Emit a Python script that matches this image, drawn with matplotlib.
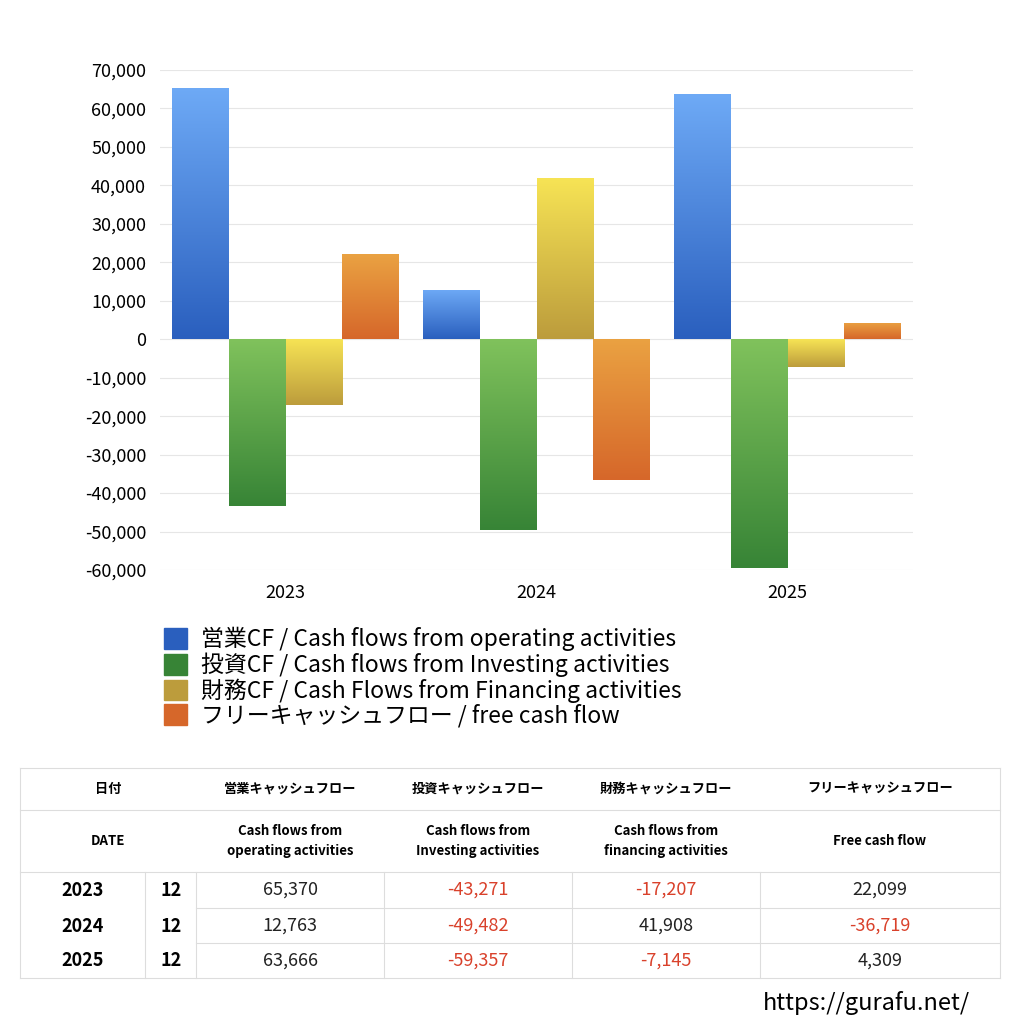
import matplotlib
matplotlib.use("Agg")
import matplotlib.pyplot as plt
import numpy as np
from matplotlib.colors import LinearSegmentedColormap

plt.rcParams['font.family'] = ['Noto Sans CJK JP', 'DejaVu Sans']

years = ['2023', '2024', '2025']
months = ['12', '12', '12']
operating = [65370, 12763, 63666]
investing = [-43271, -49482, -59357]
financing = [-17207, 41908, -7145]
free_cf = [22099, -36719, 4309]
series = [operating, investing, financing, free_cf]
labels = ['営業CF / Cash flows from operating activities',
          '投資CF / Cash flows from Investing activities',
          '財務CF / Cash Flows from Financing activities',
          'フリーキャッシュフロー / free cash flow']
grads = [('#6eaaf6', '#2a5fbe'), ('#80c25c', '#378436'),
         ('#f7e455', '#bc9c3c'), ('#eaa242', '#d6672a')]
yticks = list(range(-60000, 70001, 10000))
head_jp = ['日付', '営業キャッシュフロー', '投資キャッシュフロー', '財務キャッシュフロー', 'フリーキャッシュフロー']
head_en = ['DATE', 'Cash flows from\noperating activities', 'Cash flows from\nInvesting activities',
           'Cash flows from\nfinancing activities', 'Free cash flow']

W = 1024
fig = plt.figure(figsize=(10.24, 10.24), dpi=100)
ax = fig.add_axes([160/W, 1-570/W, 753/W, 500/W])
x = np.arange(len(years))
bw = 0.227
for i, (vals, (ctop, cbot)) in enumerate(zip(series, grads)):
    cmap = LinearSegmentedColormap.from_list('g', [cbot, ctop])
    xs = x + (i - 1.5) * bw
    bars = ax.bar(xs, vals, bw, color=ctop, label=labels[i], zorder=2)
    for b in bars:
        x0, y0 = b.get_x(), b.get_y()
        w, h = b.get_width(), b.get_height()
        lo, hi = min(y0, y0 + h), max(y0, y0 + h)
        im = ax.imshow(np.linspace(0, 1, 256).reshape(-1, 1), cmap=cmap, origin='lower',
                       extent=[x0, x0 + w, lo, hi], aspect='auto', zorder=3)
        im.set_clip_path(b)
ax.set_xlim(-0.5, 2.5)
ax.set_ylim(-60000, 70000)
ax.set_yticks(yticks)
ax.set_yticklabels([f'{v:,}' for v in yticks], fontsize=13)
ax.set_xticks(x)
ax.set_xticklabels(years, fontsize=13)
ax.tick_params(length=0, pad=10)
ax.grid(axis='y', color='#e6e6e6', lw=0.8, zorder=0)
for s in ax.spines.values():
    s.set_visible(False)

h, l = ax.get_legend_handles_labels()
leg = fig.legend(h, l, loc='upper left', bbox_to_anchor=(155/W, 1-618/W), frameon=False,
                 fontsize=16.5, handlelength=1.0, handleheight=1.0, labelspacing=0.05,
                 handletextpad=0.6, borderaxespad=0)
for p, (ctop, cbot) in zip(leg.legend_handles, grads):
    p.set_color(cbot)

# table
def fx(px): return px / W
def fy(py): return 1 - py / W
lc = '#dddddd'
def hl(y, x0, x1): fig.add_artist(plt.Line2D([fx(x0), fx(x1)], [fy(y), fy(y)], color=lc, lw=0.8))
def vl(x, y0, y1): fig.add_artist(plt.Line2D([fx(x), fx(x)], [fy(y0), fy(y1)], color=lc, lw=0.8))
hl(768, 20, 1000); hl(810, 20, 1000); hl(872, 20, 1000); hl(978, 20, 1000)
hl(908, 196, 1000); hl(943, 196, 1000)
vl(20, 768, 978); vl(1000, 768, 978)
for xv in [145, 196, 384, 572, 760]:
    vl(xv, 872, 978)
colc = [290, 478, 666, 880]
fig.text(fx(108), fy(789), head_jp[0], ha='center', va='center', fontsize=9.5, fontweight='bold')
fig.text(fx(108), fy(841), head_en[0], ha='center', va='center', fontsize=9.5, fontweight='bold')
for j in range(4):
    fig.text(fx(colc[j]), fy(789), head_jp[j+1], ha='center', va='center', fontsize=9.5, fontweight='bold')
    fig.text(fx(colc[j]), fy(841), head_en[j+1], ha='center', va='center', fontsize=9.5,
             fontweight='bold', linespacing=1.5)
rows_y = [890, 926, 961]
for r in range(3):
    fig.text(fx(83), fy(rows_y[r]), years[r], ha='center', va='center', fontsize=13, fontweight='bold')
    fig.text(fx(171), fy(rows_y[r]), months[r], ha='center', va='center', fontsize=13, fontweight='bold')
    for j in range(4):
        v = series[j][r]
        fig.text(fx(colc[j]), fy(rows_y[r]), f'{v:,}', ha='center', va='center', fontsize=13,
                 color='#d9412b' if v < 0 else '#222222')
fig.text(fx(970), fy(1003), 'https://gurafu.net/', ha='right', va='center', fontsize=17)
fig.savefig('out.png', dpi=100)
